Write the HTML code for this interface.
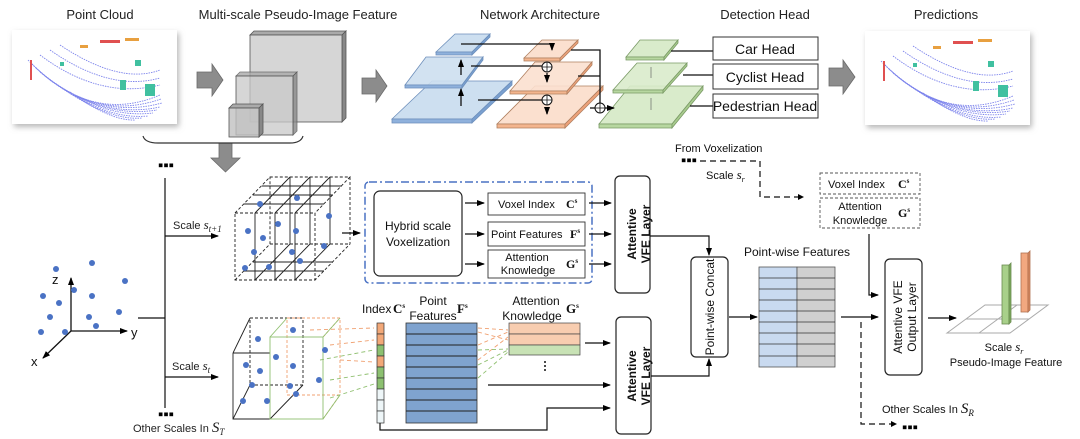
<!DOCTYPE html>
<html><head><meta charset="utf-8"><style>
html,body{margin:0;padding:0;background:#fff;}
svg{display:block;font-family:"Liberation Sans",sans-serif;}
</style></head><body>
<svg width="1080" height="439" viewBox="0 0 1080 439" xmlns="http://www.w3.org/2000/svg">
<defs>
<marker id="ah" markerWidth="8" markerHeight="8" refX="7" refY="4" orient="auto" markerUnits="userSpaceOnUse"><path d="M0,1 L8,4 L0,7 z" fill="#000"/></marker>
<filter id="sh" x="-10%" y="-10%" width="130%" height="130%"><feDropShadow dx="2" dy="3" stdDeviation="3" flood-color="#888" flood-opacity="0.6"/></filter>
<g id="pc">
<g fill="none" stroke="#7d84ec" stroke-width="0.9" stroke-dasharray="1.5 1">
<path d="M28,60 Q90,125 160,95"/><path d="M32,64 Q92,123 161,99"/><path d="M36,68 Q95,121 162,103"/><path d="M40,72 Q98,120 160,107"/><path d="M45,76 Q100,119 157,110"/><path d="M50,80 Q103,119 153,113"/><path d="M56,84 Q106,120 148,116"/><path d="M62,88 Q110,121 142,118"/><path d="M70,92 Q110,121 135,120"/><path d="M40,55 Q100,100 160,85"/><path d="M50,50 Q110,92 160,78"/><path d="M60,45 Q120,85 160,70"/>
</g>
<g fill="#e05050"><rect x="100" y="40" width="20" height="3"/><rect x="30" y="60" width="2" height="20"/></g>
<g fill="#e8a040"><rect x="125" y="38" width="14" height="3"/><rect x="80" y="45" width="8" height="3"/></g>
<g fill="#40c0a0"><rect x="120" y="80" width="6" height="10"/><rect x="145" y="84" width="10" height="12"/><rect x="135" y="60" width="6" height="6"/><rect x="60" y="62" width="4" height="4"/></g>
</g>
</defs>
<g font-size="13" text-anchor="middle" fill="#222">
<text x="100" y="19">Point Cloud</text>
<text x="298" y="19">Multi-scale Pseudo-Image Feature</text>
<text x="540" y="19">Network Architecture</text>
<text x="765" y="19">Detection Head</text>
<text x="946" y="19">Predictions</text>
</g>
<rect x="12" y="30" width="165" height="94" fill="#fff" filter="url(#sh)"/>
<use href="#pc" x="0" y="0"/>
<rect x="865" y="31" width="165" height="94" fill="#fff" filter="url(#sh)"/>
<use href="#pc" x="853" y="1"/>
<!-- gray arrows -->
<g fill="#8c8c8c" stroke="#6a6a6a" stroke-width="0.8">
<path d="M197,72 H212 V64 L223,80 L212,96 V88 H197 z"/>
<path d="M362,78 H376 V70 L387,86 L376,102 V94 H362 z"/>
<path d="M829,68 H843 V60 L855,77 L843,94 V86 H829 z"/>
<path d="M219,143 H232 V158 H240 L225.5,172 L211,158 H219 z"/>
</g>
<g stroke="#555" stroke-width="0.8">
<path d="M250,35 L254,31 L346,31 L342,35 z" fill="#aaa"/><path d="M342,35 L346,31 L346,118 L342,122 z" fill="#888"/>
<rect x="250" y="35" width="92" height="87" fill="#d6d6d6"/>
<path d="M236,76 L240,72 L297,72 L293,76 z" fill="#aaa" opacity="0.8"/><path d="M293,76 L297,72 L297,131 L293,135 z" fill="#888" opacity="0.8"/>
<rect x="236" y="76" width="57" height="59" fill="#c8c8c8" fill-opacity="0.75"/>
<path d="M229,108 L233,104 L263,104 L259,108 z" fill="#aaa"/><path d="M259,108 L263,104 L263,133 L259,137 z" fill="#888"/>
<rect x="229" y="108" width="30" height="29" fill="#c0c0c0" fill-opacity="0.8"/>
</g>
<path d="M143,136 Q145,143 158,143 H290 Q301,143 303,136" fill="none" stroke="#333" stroke-width="1.2"/>
<g stroke="#6d8fbb" stroke-width="0.8">
<path d="M392,119 L432,81 L512,81 L472,119 z" fill="#cddff0"/><path d="M392,119 H472 V123 H392z" fill="#8fb1dc"/><path d="M472,119 L512,81 V85 L472,123z" fill="#7aa0d0"/>
<path d="M405,85 L426,57 L483,57 L462,85 z" fill="#cddff0" fill-opacity="0.9"/><path d="M405,85 H462 V88 H405z" fill="#8fb1dc"/><path d="M462,85 L483,57 V60 L462,88z" fill="#7aa0d0"/>
<path d="M436,52 L455,34 L490,34 L472,52 z" fill="#cddff0"/><path d="M436,52 H472 V55 H436z" fill="#8fb1dc"/><path d="M472,52 L490,34 V37 L472,55z" fill="#7aa0d0"/>
</g>
<g stroke="#b08060" stroke-width="0.8">
<path d="M497,124 L535,86 L603,86 L565,124 z" fill="#fbe0cf"/><path d="M497,124 H565 V128 H497z" fill="#f3b58e"/><path d="M565,124 L603,86 V90 L565,128z" fill="#eea27a"/>
<path d="M510,91 L535,62 L592,62 L567,91 z" fill="#fbe0cf" fill-opacity="0.9"/><path d="M510,91 H567 V94 H510z" fill="#f3b58e"/><path d="M567,91 L592,62 V65 L567,94z" fill="#eea27a"/>
<path d="M524,58 L542,40 L578,40 L560,58 z" fill="#fbe0cf"/><path d="M524,58 H560 V61 H524z" fill="#f3b58e"/><path d="M560,58 L578,40 V43 L560,61z" fill="#eea27a"/>
</g>
<g stroke="#7a9a66" stroke-width="0.8">
<path d="M599,124 L630,86 L703,86 L672,124 z" fill="#d9ebcb"/><path d="M599,124 H672 V128 H599z" fill="#b7d7a0"/><path d="M672,124 L703,86 V90 L672,128z" fill="#a8cb8e"/>
<path d="M613,90 L637,63 L687,63 L663,90 z" fill="#d9ebcb" fill-opacity="0.9"/><path d="M613,90 H663 V93 H613z" fill="#b7d7a0"/><path d="M663,90 L687,63 V66 L663,93z" fill="#a8cb8e"/>
<path d="M626,57 L640,40 L678,40 L664,57 z" fill="#d9ebcb"/><path d="M626,57 H664 V60 H626z" fill="#b7d7a0"/><path d="M664,57 L678,40 V43 L664,60z" fill="#a8cb8e"/>
</g>
<g stroke="#111" stroke-width="1.3" fill="none">
<path d="M461,44 H552 V50" marker-end="url(#ah)"/>
<path d="M471,66 H547"/><path d="M478,100 H547"/>
<path d="M547,73 V82" marker-end="url(#ah)"/><path d="M547,107 V114" marker-end="url(#ah)"/>
<path d="M461,75 V60" marker-end="url(#ah)"/><path d="M461,106 V89" marker-end="url(#ah)"/>
<path d="M571,50 H600 V103"/><path d="M578,76 H600"/><path d="M590,108 H600"/>
<path d="M605,108 H614" marker-end="url(#ah)"/>
<path d="M671,51 H713"/><path d="M683,75 H713"/><path d="M690,106 H713"/>
</g>
<g fill="#fff" stroke="#111" stroke-width="1"><circle cx="547" cy="67" r="5"/><circle cx="547" cy="100" r="5"/><circle cx="600" cy="108" r="5"/></g>
<g stroke="#111" stroke-width="0.8"><path d="M542,67h10M547,62v10M542,100h10M547,95v10M595,108h10M600,103v10"/></g>
<g stroke="#555" stroke-width="1" opacity="0.6"><path d="M651,78 V67 M651,110 V98"/></g>
<g fill="#fff" stroke="#333" stroke-width="1"><rect x="713" y="37" width="105" height="23"/><rect x="713" y="64" width="105" height="25"/><rect x="713" y="94" width="105" height="24"/></g>
<g font-size="14" text-anchor="middle" fill="#111"><text x="765" y="54">Car Head</text><text x="765" y="82">Cyclist Head</text><text x="765" y="111">Pedestrian Head</text></g>
<g font-size="15" font-weight="bold"><text x="158" y="170">▪▪▪</text><text x="158" y="419">▪▪▪</text><text x="681" y="165">▪▪▪</text><text x="902" y="432">▪▪▪</text></g>
<g stroke="#111" stroke-width="1.2" fill="none">
<path d="M165,178 V408"/><path d="M138,318 H165"/>
<path d="M165,236 H218" marker-end="url(#ah)"/><path d="M165,377 H218" marker-end="url(#ah)"/>
</g>
<g font-size="11" fill="#222">
<text x="173" y="229">Scale <tspan font-family="Liberation Serif" font-style="italic" font-size="13">s</tspan><tspan font-family="Liberation Serif" font-style="italic" font-size="9" dy="3">t+1</tspan></text>
<text x="172" y="370">Scale <tspan font-family="Liberation Serif" font-style="italic" font-size="13">s</tspan><tspan font-family="Liberation Serif" font-style="italic" font-size="9" dy="3">t</tspan></text>
<text x="133" y="432">Other Scales In <tspan font-family="Liberation Serif" font-style="italic" font-size="15">S</tspan><tspan font-family="Liberation Serif" font-style="italic" font-size="9" dy="3">T</tspan></text>
</g>
<g stroke="#111" stroke-width="1.3" fill="none">
<path d="M71,331 V278" marker-end="url(#ah)"/><path d="M71,331 H127" marker-end="url(#ah)"/><path d="M71,331 L43,358" marker-end="url(#ah)"/>
</g>
<g font-size="13" fill="#111"><text x="52" y="284">z</text><text x="131" y="337">y</text><text x="31" y="366">x</text></g>
<g fill="#4a72c4">
<circle cx="56" cy="269" r="3"/><circle cx="92" cy="263" r="3"/><circle cx="125" cy="281" r="3"/><circle cx="74" cy="290" r="3"/><circle cx="43" cy="296" r="3"/><circle cx="59" cy="303" r="3"/><circle cx="92" cy="296" r="3"/><circle cx="50" cy="317" r="3"/><circle cx="89" cy="317" r="3"/><circle cx="119" cy="312" r="3"/><circle cx="96" cy="326" r="3"/><circle cx="41" cy="332" r="3"/><circle cx="65" cy="332" r="3"/>
</g>
<g fill="none" stroke="#222" stroke-width="0.9">
<g stroke-dasharray="3 2">
<rect x="235" y="213" width="80" height="67"/>
<path d="M235,213 L270,177 H350 L315,213 M350,177 V244 L315,280 M235,280 L270,244 V177 M270,244 H350"/>
</g>
<path d="M255,213 L290,177 M275,213 L310,177 M295,213 L330,177"/>
<path d="M255,213 V280 M275,213 V280 M295,213 V280"/>
<path d="M244,204 H324 M253,195 H333 M262,186 H342"/>
<path d="M255,280 L290,244 M275,280 L310,244 M295,280 L330,244"/>
<path d="M290,177 V244 M310,177 V244 M330,177 V244"/>
<path d="M244,271 H324 M253,262 H333"/>
</g>
<g fill="#4a72c4">
<circle cx="260" cy="204" r="3"/><circle cx="297" cy="198" r="3"/><circle cx="329" cy="216" r="3"/><circle cx="278" cy="224" r="3"/><circle cx="248" cy="231" r="3"/><circle cx="263" cy="238" r="3"/><circle cx="296" cy="231" r="3"/><circle cx="254" cy="252" r="3"/><circle cx="292" cy="252" r="3"/><circle cx="324" cy="246" r="3"/><circle cx="300" cy="261" r="3"/><circle cx="245" cy="268" r="3"/><circle cx="269" cy="267" r="3"/>
</g>
<path d="M342,233 H360" stroke="#111" stroke-width="1.2" marker-end="url(#ah)"/>
<rect x="365" y="182" width="227" height="101" rx="4" fill="none" stroke="#4a72c4" stroke-width="1.5" stroke-dasharray="8 3 2 3"/>
<rect x="374" y="191" width="88" height="85" rx="6" fill="#fff" stroke="#222" stroke-width="1.2"/>
<g font-size="12" text-anchor="middle" fill="#111"><text x="418" y="230">Hybrid scale</text><text x="418" y="246">Voxelization</text></g>
<g stroke="#111" stroke-width="1.2"><path d="M465,203 H484" marker-end="url(#ah)"/><path d="M465,234 H484" marker-end="url(#ah)"/><path d="M465,264 H484" marker-end="url(#ah)"/>
<path d="M589,203 H611" marker-end="url(#ah)"/><path d="M589,234 H611" marker-end="url(#ah)"/><path d="M589,264 H611" marker-end="url(#ah)"/></g>
<g fill="#fff" stroke="#333" stroke-width="0.9"><rect x="488" y="193" width="97" height="22"/><rect x="488" y="222" width="97" height="24"/><rect x="488" y="250" width="97" height="28"/></g>
<g font-size="11" fill="#111">
<text x="498" y="208">Voxel Index</text><text x="566" y="208" font-family="Liberation Serif" font-weight="bold" font-size="12">C<tspan font-size="7" dy="-5">s</tspan></text>
<text x="491" y="238">Point Features</text><text x="570" y="238" font-family="Liberation Serif" font-weight="bold" font-size="12">F<tspan font-size="7" dy="-5">s</tspan></text>
<text x="527" y="261" text-anchor="middle">Attention</text><text x="528" y="274" text-anchor="middle">Knowledge</text><text x="566" y="268" font-family="Liberation Serif" font-weight="bold" font-size="12">G<tspan font-size="7" dy="-5">s</tspan></text>
</g>
<g fill="#fff" stroke="#222" stroke-width="1.2">
<rect x="615" y="176" width="35" height="117" rx="5"/><rect x="616" y="317" width="35" height="117" rx="5"/>
<rect x="691" y="257" width="37" height="100" rx="5"/><rect x="885" y="259" width="37" height="116" rx="5"/>
</g>
<g font-size="12" font-weight="bold" text-anchor="middle" fill="#111">
<text transform="translate(636,234) rotate(-90)">Attentive</text><text transform="translate(650,234) rotate(-90)">VFE Layer</text>
<text transform="translate(636,376) rotate(-90)">Attentive</text><text transform="translate(650,376) rotate(-90)">VFE Layer</text>
</g>
<g font-size="12" text-anchor="middle" fill="#111">
<text transform="translate(714,307) rotate(-90)">Point-wise Concat</text>
<text transform="translate(902,317) rotate(-90)">Attentive VFE</text><text transform="translate(916,317) rotate(-90)">Output Layer</text>
</g>
<g stroke="#111" stroke-width="1.2" fill="none">
<path d="M650,236 H709 V255" marker-end="url(#ah)"/><path d="M651,376 H709 V359" marker-end="url(#ah)"/>
<path d="M729,317 H757" marker-end="url(#ah)"/>
<path d="M841,317 H878" marker-end="url(#ah)"/>
<path d="M869,234 V295 H878" marker-end="url(#ah)"/>
<path d="M928,318 H956" marker-end="url(#ah)"/>
</g>
<text x="797" y="256" font-size="12" text-anchor="middle" fill="#111">Point-wise Features</text>
<rect x="759" y="267" width="38" height="100" fill="#c9daf0" stroke="#555" stroke-width="0.8"/>
<rect x="797" y="267" width="38" height="100" fill="#d0d0d0" stroke="#555" stroke-width="0.8"/>
<g stroke="#333" stroke-width="0.8"><path d="M759,278H835M759,289H835M759,300H835M759,311H835M759,322H835M759,333H835M759,344H835M759,356H835"/></g>
<text x="675" y="152" font-size="11" fill="#111">From  Voxelization</text>
<text x="706" y="179" font-size="11" fill="#111">Scale <tspan font-family="Liberation Serif" font-style="italic" font-size="13">s</tspan><tspan font-family="Liberation Serif" font-style="italic" font-size="8" dy="3">r</tspan></text>
<g stroke="#111" stroke-width="1.2" fill="none" stroke-dasharray="6 4">
<path d="M700,161 H760 V197 H804"/>
<path d="M861,322 V424 H895"/>
</g>
<path d="M804,197 l-6,-3 v6z" fill="#000"/><path d="M897,424 l-6,-3 v6z" fill="#000"/>
<g fill="none" stroke="#555" stroke-width="0.9" stroke-dasharray="3 2"><rect x="820" y="173" width="100" height="21"/><rect x="820" y="198" width="100" height="30"/></g>
<g font-size="11" fill="#111">
<text x="828" y="188">Voxel Index</text><text x="898" y="188" font-family="Liberation Serif" font-weight="bold" font-size="12">C<tspan font-size="7" dy="-5">s</tspan></text>
<text x="860" y="210" text-anchor="middle">Attention</text><text x="860" y="224" text-anchor="middle">Knowledge</text><text x="898" y="217" font-family="Liberation Serif" font-weight="bold" font-size="12">G<tspan font-size="7" dy="-5">s</tspan></text>
<text x="882" y="413">Other Scales In <tspan font-family="Liberation Serif" font-style="italic" font-size="15">S</tspan><tspan font-family="Liberation Serif" font-style="italic" font-size="9" dy="3">R</tspan></text>
<text x="1004" y="351" text-anchor="middle">Scale <tspan font-family="Liberation Serif" font-style="italic" font-size="13">s</tspan><tspan font-family="Liberation Serif" font-style="italic" font-size="8" dy="3">r</tspan></text>
<text x="1006" y="366" text-anchor="middle">Pseudo-Image Feature</text>
</g>
<g fill="none" stroke="#aaa" stroke-width="1"><path d="M947,333 L985,305 H1048 L1010,333 z"/><path d="M966,319 H1029 M979,333 L1017,305"/></g>
<g stroke="#6a8a50" stroke-width="0.8"><rect x="1002" y="265" width="7" height="59" fill="#a8d08a"/><path d="M1009,265 l2,-2 v59 l-2,2z" fill="#7aaa5a"/></g>
<g stroke="#b07050" stroke-width="0.8"><rect x="1021" y="253" width="7" height="59" fill="#f2a880"/><path d="M1028,253 l2,-2 v59 l-2,2z" fill="#d8875e"/></g>
<!-- lower cube -->
<g fill="none" stroke-width="0.9">
<g stroke="#222" stroke-dasharray="3 2"><rect x="250" y="318" width="53" height="67"/></g>
<g stroke="#222"><path d="M233,353 V419 H270 M233,353 H270 M233,353 L250,318 M233,419 L250,385 M270,419 L303,385"/></g>
<g stroke="#f0a070" stroke-dasharray="3 2"><rect x="287" y="318" width="53" height="77"/><path d="M323,337 L340,318 M323,419 L340,395"/></g>
<g stroke="#90c070"><rect x="270" y="337" width="53" height="82"/><path d="M270,337 L287,318 M323,337 L340,318 M323,419 L340,395"/></g>
</g>
<g fill="#4a72c4">
<circle cx="258" cy="339" r="3"/><circle cx="293" cy="330" r="3"/><circle cx="325" cy="350" r="3"/><circle cx="276" cy="357" r="3"/><circle cx="246" cy="365" r="3"/><circle cx="260" cy="371" r="3"/><circle cx="293" cy="366" r="3"/><circle cx="252" cy="385" r="3"/><circle cx="290" cy="386" r="3"/><circle cx="319" cy="380" r="3"/><circle cx="296" cy="394" r="3"/><circle cx="243" cy="401" r="3"/><circle cx="267" cy="401" r="3"/>
</g>
<g fill="none" stroke-width="0.9" stroke-dasharray="4 3">
<g stroke="#f0a070"><path d="M310,330 L374,328 M330,345 L374,340 M340,360 L374,362"/></g>
<g stroke="#90c070"><path d="M320,360 L374,350 M330,380 L374,373 M330,398 L374,384"/></g>
<g stroke="#f0a070"><path d="M478,328 L508,330 M478,332 L508,340 M478,345 L508,332 M478,360 L508,337"/></g>
<g stroke="#90c070"><path d="M478,350 L508,349 M478,365 L508,350 M478,378 L508,352"/></g>
</g>
<g stroke="#333" stroke-width="0.7">
<rect x="377" y="323" width="7" height="11" fill="#f2a878"/><rect x="377" y="334" width="7" height="11" fill="#f2a878"/><rect x="377" y="345" width="7" height="11" fill="#8cc070"/><rect x="377" y="356" width="7" height="11" fill="#f2a878"/><rect x="377" y="367" width="7" height="11" fill="#8cc070"/><rect x="377" y="378" width="7" height="11" fill="#8cc070"/><rect x="377" y="389" width="7" height="11" fill="#eef6f8"/><rect x="377" y="400" width="7" height="11" fill="#eef6f8"/><rect x="377" y="411" width="7" height="12" fill="#eef6f8"/>
</g>
<g font-size="12" fill="#111">
<text x="362" y="313">Index</text><text x="393" y="313" font-family="Liberation Serif" font-weight="bold" font-size="13">C<tspan font-size="7" dy="-5">s</tspan></text>
<text x="433" y="305" text-anchor="middle">Point</text><text x="433" y="320" text-anchor="middle">Features</text><text x="457" y="313" font-family="Liberation Serif" font-weight="bold" font-size="13">F<tspan font-size="7" dy="-5">s</tspan></text>
<text x="536" y="305" text-anchor="middle">Attention</text><text x="532" y="320" text-anchor="middle">Knowledge</text><text x="566" y="313" font-family="Liberation Serif" font-weight="bold" font-size="13">G<tspan font-size="7" dy="-5">s</tspan></text>
</g>
<rect x="406" y="323" width="71" height="100" fill="#7fa3cf" stroke="#333" stroke-width="0.8"/>
<g stroke="#222" stroke-width="1"><path d="M406,334H477M406,345H477M406,356H477M406,367H477M406,378H477M406,389H477M406,400H477M406,411H477"/></g>
<rect x="509" y="323" width="71" height="11" fill="#f8cdb0" stroke="#444" stroke-width="0.7"/>
<rect x="509" y="334" width="71" height="11" fill="#f8cdb0" stroke="#444" stroke-width="0.7"/>
<rect x="509" y="345" width="71" height="10" fill="#c8e2b5" stroke="#444" stroke-width="0.7"/>
<g fill="#111"><circle cx="545" cy="362" r="1"/><circle cx="545" cy="366" r="1"/><circle cx="545" cy="370" r="1"/></g>
<g stroke="#111" stroke-width="1.2" fill="none">
<path d="M585,343 H610" marker-end="url(#ah)"/><path d="M488,385 H610" marker-end="url(#ah)"/>
<path d="M380,423 V430 H547 V408 H610" marker-end="url(#ah)"/>
</g>
</svg>
</body></html>
